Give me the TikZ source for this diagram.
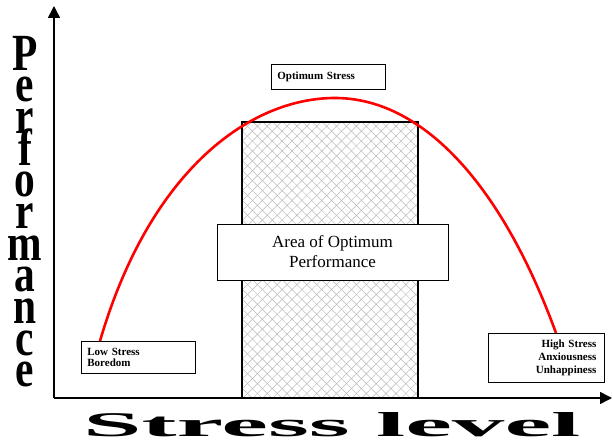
\documentclass[tikz,border=0pt]{standalone}
\usepackage{fontspec}
\setmainfont{Liberation Serif}
\usetikzlibrary{arrows.meta,patterns.meta}

\begin{document}
\begin{tikzpicture}[x=1pt, y=-1pt,
	axis/.style = {line width=1.6pt, -{Triangle[length=12pt,width=12pt]}},
	tag/.style = {draw, line width=0.8pt, fill=white, anchor=north west, inner xsep=6pt, inner ysep=0pt,
		font=\fontsize{11}{11.5}\selectfont\bfseries},
	zone/.style = {draw, line width=1.6pt, inner sep=0pt, minimum width=176pt, minimum height=276pt,
		pattern={Lines[angle=45,distance=7pt,line width=0.5pt]}, pattern color=gray!55,
		preaction={pattern={Lines[angle=-45,distance=7pt,line width=0.5pt]}, pattern color=gray!55}},
	perf/.style = {anchor=base, inner sep=0pt, font=\fontsize{36}{36}\selectfont\bfseries}]
	\useasboundingbox (0,0) rectangle (613,443);

	% axes
	\coordinate (origin) at (54,398);
	\coordinate (ytip) at (54,6);
	\coordinate (xtip) at (612,398);

	% optimum zone
	\node[zone] (zone) at (330,260) {};

	\draw[axis] (origin) -- (ytip);
	\draw[axis] (origin) -- (xtip);

	% the curve
	\coordinate (low) at (100,341);
	\coordinate (peak) at (335,98);
	\coordinate (high) at (556,333);
	\draw[red, line width=2.6pt] (low) .. controls (150,170) and (250,98) .. (peak)
		.. controls (420,98) and (500,180) .. (high);

	\node[draw, line width=0.8pt, fill=white, minimum width=231pt, minimum height=56pt, align=center,
		font=\fontsize{17}{20}\selectfont] (area) at (332.5,252) {Area of Optimum\\Performance};

	\node[tag, minimum width=114pt, minimum height=25pt, text width=102pt, align=left] (opt) at (271,64) {Optimum Stress};
	\node[tag, minimum width=114pt, minimum height=32pt, text width=102pt, align=left] (lowtag) at (81,341) {Low Stress\\Boredom};
	\node[tag, minimum width=116pt, minimum height=49pt, text width=100pt, inner xsep=8pt, align=right,
		font=\fontsize{11}{13}\selectfont\bfseries] (hightag) at (488,333) {High Stress\\Anxiousness\\Unhappiness};

	% axis titles
	\node[perf] (performance) at (25,387) {\scalebox{1.15}[1.45]{\vbox{\baselineskip=21.86pt\lineskiplimit=-100pt
		\halign{\hfil#\hfil\cr P\cr e\cr r\cr f\cr o\cr r\cr m\cr a\cr n\cr c\cr e\cr}}}};
	\node[anchor=south west, inner sep=0pt] (stress) at (83,437) {\resizebox{497pt}{24pt}{\bfseries Stress level}};
\end{tikzpicture}
\end{document}
